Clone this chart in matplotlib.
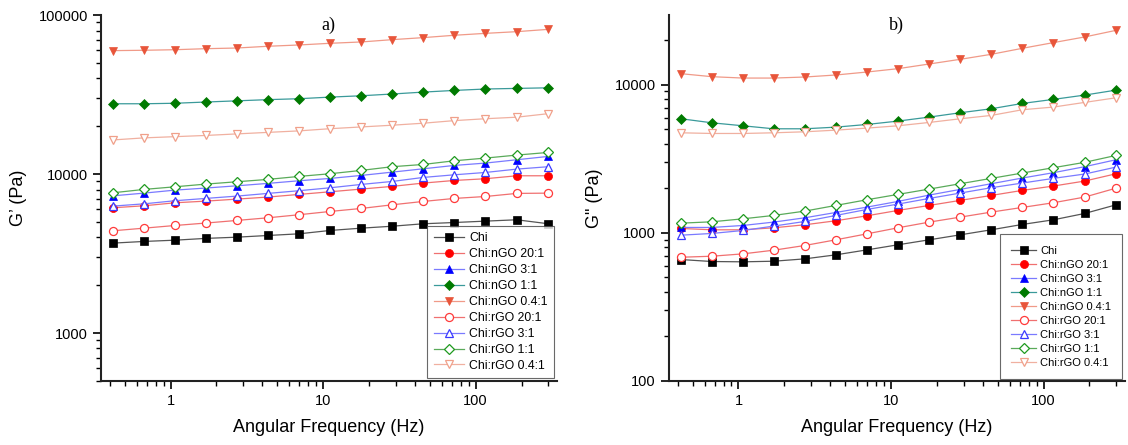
import matplotlib.pyplot as plt
from matplotlib.ticker import LogLocator, NullFormatter

plt.rcParams['font.family'] = ['Liberation Sans', 'DejaVu Sans']

# angular frequency (Hz)
freq = [0.42, 0.67, 1.07, 1.7, 2.72, 4.35, 6.95, 11.1, 17.8, 28.4, 45.4, 72.6, 116, 186, 300]

# storage modulus G' (Pa)
gp_chi = [3680, 3770, 3840, 3940, 4010, 4110, 4210, 4420, 4570, 4700, 4870, 4960, 5060, 5160, 4870]
gp_ngo20 = [6140, 6320, 6600, 6760, 6960, 7170, 7450, 7740, 8050, 8370, 8780, 9120, 9350, 9760, 9760]
gp_ngo3 = [7300, 7590, 7930, 8170, 8440, 8740, 9080, 9390, 9810, 10290, 10800, 11340, 11730, 12310, 12920]
gp_ngo1 = [27700, 27700, 27900, 28400, 28900, 29400, 29800, 30500, 31100, 31900, 32800, 33600, 34300, 34600, 34900]
gp_ngo04 = [59800, 60100, 60600, 61500, 62100, 63700, 64900, 66500, 67800, 70100, 72200, 74700, 76800, 78700, 81400]
gp_rgo20 = [4400, 4570, 4750, 4920, 5110, 5310, 5550, 5820, 6080, 6410, 6730, 7030, 7230, 7560, 7590]
gp_rgo3 = [6290, 6500, 6800, 7030, 7270, 7560, 7860, 8200, 8610, 8990, 9530, 9900, 10240, 10750, 11130]
gp_rgo1 = [7630, 8010, 8320, 8650, 8950, 9260, 9670, 10050, 10550, 11130, 11500, 12130, 12610, 13170, 13690]
gp_rgo04 = [16400, 16900, 17200, 17500, 17900, 18300, 18700, 19300, 19800, 20300, 20900, 21700, 22300, 22800, 24000]

# loss modulus G" (Pa)
gpp_chi = [660, 640, 637, 643, 667, 710, 767, 830, 897, 969, 1048, 1139, 1224, 1351, 1547]
gpp_ngo20 = [1070, 1048, 1048, 1081, 1133, 1206, 1303, 1416, 1531, 1655, 1788, 1934, 2069, 2236, 2507]
gpp_ngo3 = [1087, 1087, 1121, 1181, 1263, 1372, 1491, 1629, 1798, 1964, 2145, 2344, 2546, 2796, 3118]
gpp_ngo1 = [5890, 5530, 5280, 5040, 5040, 5170, 5390, 5680, 6045, 6465, 6880, 7475, 7960, 8510, 9200]
gpp_ngo04 = [11870, 11330, 11090, 11090, 11270, 11630, 12180, 12830, 13800, 14840, 16040, 17610, 19240, 21010, 23310]
gpp_rgo20 = [684, 695, 721, 763, 821, 897, 984, 1081, 1181, 1276, 1380, 1484, 1596, 1743, 2005]
gpp_rgo3 = [964, 990, 1037, 1110, 1193, 1310, 1438, 1563, 1707, 1855, 2016, 2168, 2331, 2494, 2781]
gpp_rgo1 = [1162, 1187, 1243, 1310, 1401, 1531, 1672, 1817, 1974, 2145, 2331, 2533, 2752, 2991, 3335]
gpp_rgo04 = [4735, 4686, 4686, 4735, 4810, 4935, 5093, 5280, 5562, 5888, 6203, 6776, 7064, 7595, 8168]

labels = ['Chi', 'Chi:nGO 20:1', 'Chi:nGO 3:1', 'Chi:nGO 1:1', 'Chi:nGO 0.4:1',
          'Chi:rGO 20:1', 'Chi:rGO 3:1', 'Chi:rGO 1:1', 'Chi:rGO 0.4:1']

# marker, marker colour, line colour, filled
styles = [
    ('s', 'black', '#555555', True),
    ('o', '#ff0000', '#f07070', True),
    ('^', '#0000ff', '#7a7aff', True),
    ('D', '#007a00', '#3a9a9a', True),
    ('v', '#e8553a', '#f09a88', True),
    ('o', '#ff3a3a', '#f07070', False),
    ('^', '#3a3aff', '#7a7aff', False),
    ('D', '#1f9a1f', '#5aaa5a', False),
    ('v', '#f0a08a', '#f0b0a0', False),
]

gp_all = [gp_chi, gp_ngo20, gp_ngo3, gp_ngo1, gp_ngo04, gp_rgo20, gp_rgo3, gp_rgo1, gp_rgo04]
gpp_all = [gpp_chi, gpp_ngo20, gpp_ngo3, gpp_ngo1, gpp_ngo04, gpp_rgo20, gpp_rgo3, gpp_rgo1, gpp_rgo04]

fig = plt.figure(figsize=(11.28, 4.45), dpi=100)
ax1 = fig.add_axes([0.0895, 0.144, 0.404, 0.822])
ax2 = fig.add_axes([0.593, 0.144, 0.404, 0.822])


def draw(ax, data, ylim, ylabel, title, legfont, legspace, legpad, hlen):
    for y, lab, (m, mc, lc, filled) in zip(data, labels, styles):
        ms = 5.8 if m != 'D' else 5.2
        ax.plot(freq, y, color=lc, lw=0.9, marker=m, ms=ms,
                markerfacecolor=mc if filled else 'white',
                markeredgecolor=mc, markeredgewidth=0.9 if not filled else 0.5,
                label=lab)
    ax.set_xscale('log')
    ax.set_yscale('log')
    ax.set_xlim(0.35, 340)
    ax.set_ylim(*ylim)
    for s in ['top', 'right']:
        ax.spines[s].set_visible(False)
    for s in ['left', 'bottom']:
        ax.spines[s].set_linewidth(1.5)
        ax.spines[s].set_color('#222222')
    ax.tick_params(which='major', direction='out', length=6, width=1.2, labelsize=10.5)
    ax.tick_params(which='minor', direction='out', length=3.5, width=1.0)
    ax.xaxis.set_minor_locator(LogLocator(base=10, subs=range(2, 10)))
    ax.yaxis.set_minor_locator(LogLocator(base=10, subs=range(2, 10)))
    ax.xaxis.set_minor_formatter(NullFormatter())
    ax.yaxis.set_minor_formatter(NullFormatter())
    ax.set_xticks([1, 10, 100])
    ax.set_xticklabels(['1', '10', '100'])
    ax.set_xlabel('Angular Frequency (Hz)', fontsize=13, labelpad=8)
    ax.set_ylabel(ylabel, fontsize=13, labelpad=8)
    ax.text(0.5, 0.995, title, transform=ax.transAxes, ha='center', va='top',
            fontsize=13, family=['Liberation Serif', 'DejaVu Serif'])
    leg = ax.legend(loc='lower right', fontsize=legfont, frameon=True, fancybox=False,
                    edgecolor='#444444', handlelength=hlen, labelspacing=legspace,
                    borderaxespad=0.2, handletextpad=0.4, borderpad=legpad)
    leg.get_frame().set_linewidth(0.8)


draw(ax1, gp_all, (500, 100000), 'G\u2019 (Pa)', 'a)', 8.8, 0.32, 0.55, 2.5)
ax1.set_yticks([1000, 10000, 100000])
ax1.set_yticklabels(['1000', '10000', '100000'])

draw(ax2, gpp_all, (100, 29500), 'G" (Pa)', 'b)', 8, 0.36, 1.0, 2.2)
ax2.set_yticks([100, 1000, 10000])
ax2.set_yticklabels(['100', '1000', '10000'])

fig.savefig('out.png', dpi=100)
